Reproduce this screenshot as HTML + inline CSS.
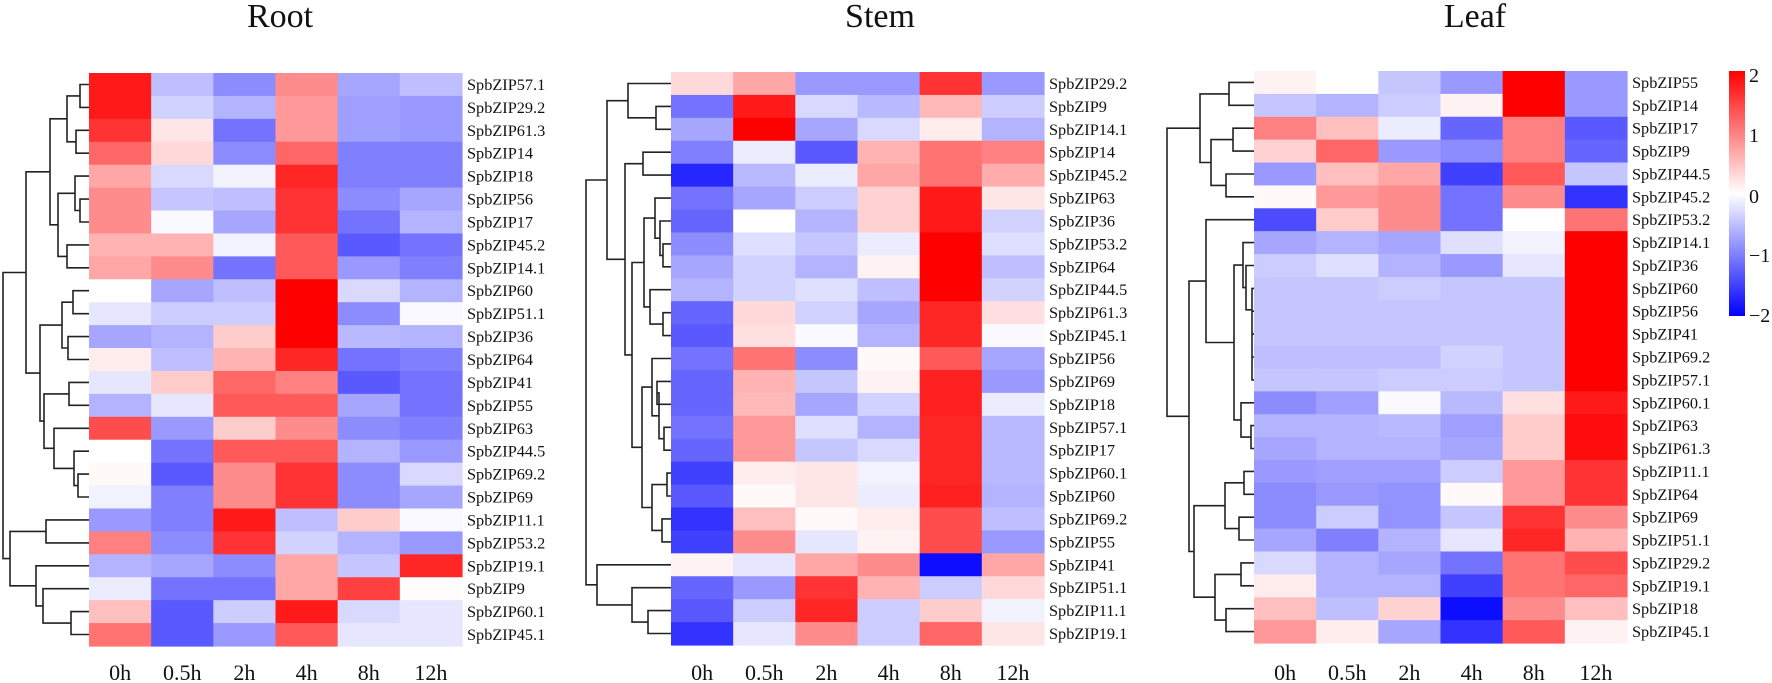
<!DOCTYPE html>
<html><head><meta charset="utf-8"><style>
html,body{margin:0;padding:0;background:#fff;}
svg{display:block;}
text{font-family:"Liberation Serif",serif;fill:#111;}
</style></head><body>
<svg id="s" width="1772" height="683" viewBox="0 0 1772 683" xmlns="http://www.w3.org/2000/svg">
<defs><linearGradient id="cb" x1="0" y1="0" x2="0" y2="1">
<stop offset="0" stop-color="#ff0000"/><stop offset="0.5" stop-color="#ffffff"/><stop offset="1" stop-color="#0000ff"/></linearGradient></defs>
<text x="280" y="27" font-size="34" text-anchor="middle">Root</text>
<text x="880" y="27" font-size="34" text-anchor="middle">Stem</text>
<text x="1475" y="27" font-size="34" text-anchor="middle">Leaf</text>
<rect x="1729" y="71" width="16" height="245" fill="url(#cb)"/>
<text x="1749" y="82" font-size="20">2</text>
<text x="1749" y="142" font-size="20">1</text>
<text x="1749" y="203" font-size="20">0</text>
<text x="1749" y="262" font-size="20">−1</text>
<text x="1749" y="322" font-size="20">−2</text>
</svg>
<script>
var S=document.getElementById('s'),NS='http://www.w3.org/2000/svg';
function el(n,a,t){var e=document.createElementNS(NS,n);for(var k in a)e.setAttribute(k,a[k]);if(t)e.textContent=t;S.appendChild(e);return e;}
function col(v){v=Math.max(-2,Math.min(2,v));var r,g,b;if(v>=0){r=255;g=b=Math.round(255*(1-v/2));}else{b=255;r=g=Math.round(255*(1+v/2));}return 'rgb('+r+','+g+','+b+')';}
var cols=['0h','0.5h','2h','4h','8h','12h'];
function panel(p){
 var n=p.names.length,rh=(p.y1-p.y0)/n,cw=(p.x1-p.x0)/6;
 for(var i=0;i<n;i++){for(var j=0;j<6;j++){
  el('rect',{x:(p.x0+j*cw).toFixed(2),y:(p.y0+i*rh).toFixed(2),width:(cw+0.6).toFixed(2),height:(rh+0.6).toFixed(2),fill:col(p.v[i][j])});}
  el('text',{x:p.lx,y:(p.y0+(i+0.5)*rh+5.5).toFixed(2),'font-size':'16.3'},'SpbZIP'+p.names[i]);}
 for(var j=0;j<6;j++)el('text',{x:(p.x0+(j+0.5)*cw).toFixed(2),y:680,'font-size':'22','text-anchor':'middle'},cols[j]);
 var d='';
 function walk(nd){ if(typeof nd==='number'){return {y:p.y0+(nd-0.5)*rh,x:p.x0};}
  var a=walk(nd[1]),b=walk(nd[2]),h=nd[0];
  d+='M'+a.x+' '+a.y.toFixed(1)+'H'+h+'V'+b.y.toFixed(1)+'H'+b.x;
  return {y:(a.y+b.y)/2,x:h};}
 walk(p.tree);
 el('path',{d:d,fill:'none',stroke:'#222','stroke-width':'1.6'});
}
panel({x0:89,x1:462,y0:73,y1:646,lx:467,
names:['57.1','29.2','61.3','14','18','56','17','45.2','14.1','60','51.1','36','64','41','55','63','44.5','69.2','69','11.1','53.2','19.1','9','60.1','45.1'],
v:[[1.8,-0.5,-0.9,0.9,-0.7,-0.5],[1.8,-0.35,-0.6,0.8,-0.75,-0.8],[1.6,0.2,-1.1,0.8,-0.75,-0.8],[1.2,0.3,-0.9,1.2,-1,-1],[0.7,-0.3,-0.1,1.7,-1,-1],[0.9,-0.45,-0.5,1.6,-0.9,-0.7],[0.9,-0.05,-0.7,1.6,-1.1,-0.6],[0.6,0.6,-0.1,1.3,-1.3,-1.1],[0.7,0.9,-1.1,1.3,-0.8,-1],[0,-0.7,-0.5,2,-0.3,-0.6],[-0.2,-0.4,-0.4,2,-0.9,-0.05],[-0.7,-0.6,0.4,2,-0.55,-0.6],[0.15,-0.5,0.6,1.7,-1.1,-1],[-0.2,0.4,1.2,1,-1.3,-1.1],[-0.6,-0.2,1.3,1.3,-0.7,-1.1],[1.4,-0.8,0.4,0.9,-0.9,-1],[0,-1.1,1.3,1.3,-0.6,-0.8],[0.05,-1.3,0.9,1.6,-0.9,-0.3],[-0.1,-1,0.9,1.6,-0.9,-0.7],[-0.8,-1,1.8,-0.5,0.4,-0.05],[1,-0.9,1.6,-0.35,-0.6,-0.8],[-0.6,-0.7,-0.9,0.7,-0.45,1.7],[-0.15,-1.1,-1.1,0.7,1.5,0.02],[0.5,-1.3,-0.4,1.8,-0.3,-0.2],[1.1,-1.3,-0.8,1.3,-0.2,-0.2]],
tree:[3,[26,[50,[67,[80,1,2],[76,3,4]],[58,[75,5,[80,6,7]],[67,8,9]]],[40,[62,[73,10,11],[68,12,13]],[44,[69,14,15],[54,16,[74,17,[78,18,19]]]]]],[10,[46,20,21],[36,22,[43,23,[71,24,25]]]]]
});
panel({x0:671,x1:1044,y0:72,y1:645,lx:1049,
names:['29.2','9','14.1','14','45.2','63','36','53.2','64','44.5','61.3','45.1','56','69','18','57.1','17','60.1','60','69.2','55','41','51.1','11.1','19.1'],
v:[[0.3,0.7,-0.8,-0.8,1.6,-0.8],[-1.1,1.8,-0.3,-0.55,0.55,-0.4],[-0.7,2,-0.7,-0.3,0.15,-0.6],[-1,-0.15,-1.3,0.6,1.1,1],[-1.7,-0.55,-0.15,0.7,1.1,0.65],[-1.1,-0.7,-0.4,0.35,1.8,0.2],[-1.2,0,-0.6,0.35,1.8,-0.35],[-0.9,-0.25,-0.45,-0.15,2,-0.25],[-0.7,-0.35,-0.6,0.1,2,-0.5],[-0.6,-0.35,-0.25,-0.5,2,-0.35],[-1.2,0.3,-0.35,-0.7,1.7,0.25],[-1.3,0.25,-0.05,-0.6,1.7,-0.05],[-1.1,1.1,-0.9,0.05,1.3,-0.7],[-1.2,0.6,-0.45,0.1,1.75,-0.8],[-1.2,0.55,-0.7,-0.35,1.75,-0.15],[-1.1,0.8,-0.25,-0.6,1.7,-0.55],[-1.2,0.8,-0.45,-0.3,1.7,-0.55],[-1.5,0.15,0.2,-0.1,1.7,-0.55],[-1.3,0.05,0.2,-0.15,1.75,-0.6],[-1.6,0.5,0.05,0.15,1.4,-0.5],[-1.5,0.9,-0.2,0.1,1.4,-0.8],[0.1,-0.2,0.7,0.9,-1.9,0.7],[-1.2,-0.8,1.6,0.6,-0.4,0.3],[-1.3,-0.4,1.7,-0.4,0.4,-0.1],[-1.6,-0.2,0.9,-0.4,1.2,0.2]],
tree:[586,[607,[628,1,[656,2,3]],[625,[643,4,5],[632,[644,[655,6,[660,7,[663,8,9]]],[650,10,[663,11,12]]],[642,[652,13,[659,[657,14,15],[664,16,17]]],[652,[667,18,19],[662,20,21]]]]]],[597,22,[632,23,[648,24,25]]]]
});
panel({x0:1254,x1:1627,y0:71,y1:643,lx:1632,
names:['55','14','17','9','44.5','45.2','53.2','14.1','36','60','56','41','69.2','57.1','60.1','63','61.3','11.1','64','69','51.1','29.2','19.1','18','45.1'],
v:[[0.1,0,-0.45,-0.8,2,-0.8],[-0.45,-0.6,-0.4,0.1,2,-0.8],[1,0.5,-0.15,-1.2,1,-1.3],[0.35,1.2,-0.8,-0.9,1,-1.2],[-0.8,0.5,0.7,-1.5,1.3,-0.45],[0.05,0.8,0.9,-1.1,0.9,-1.6],[-1.4,0.4,0.9,-1.1,0,1.1],[-0.7,-0.6,-0.7,-0.25,-0.1,2],[-0.4,-0.25,-0.6,-0.8,-0.2,2],[-0.45,-0.45,-0.4,-0.45,-0.45,2],[-0.45,-0.45,-0.45,-0.45,-0.45,2],[-0.45,-0.45,-0.45,-0.45,-0.45,2],[-0.5,-0.5,-0.5,-0.35,-0.45,2],[-0.45,-0.45,-0.4,-0.4,-0.45,2],[-0.9,-0.75,-0.05,-0.55,0.25,1.8],[-0.6,-0.6,-0.55,-0.75,0.4,1.9],[-0.7,-0.6,-0.6,-0.7,0.4,1.9],[-0.8,-0.75,-0.75,-0.4,0.8,1.6],[-0.9,-0.8,-0.85,0.05,0.8,1.6],[-0.9,-0.4,-0.85,-0.45,1.6,0.9],[-0.7,-1,-0.6,-0.2,1.7,0.6],[-0.3,-0.6,-0.7,-1.1,1.1,1.4],[0.15,-0.6,-0.6,-1.5,1.1,1.2],[0.5,-0.5,0.35,-1.9,0.9,0.5],[0.8,0.15,-0.7,-1.6,1.3,0.1]],
tree:[1167,[1200,[1229,1,2],[1211,[1233,3,4],[1226,5,6]]],[1189,[1206,7,[1234,[1243,8,[1246,9,[1252,10,[1252,11,[1252,12,[1252,13,14]]]]]],[1241,15,[1251,16,17]]]],[1194,[1225,[1244,18,19],[1239,20,21]],[1215,[1241,22,23],[1226,24,25]]]]]
});
</script>
</body></html>
